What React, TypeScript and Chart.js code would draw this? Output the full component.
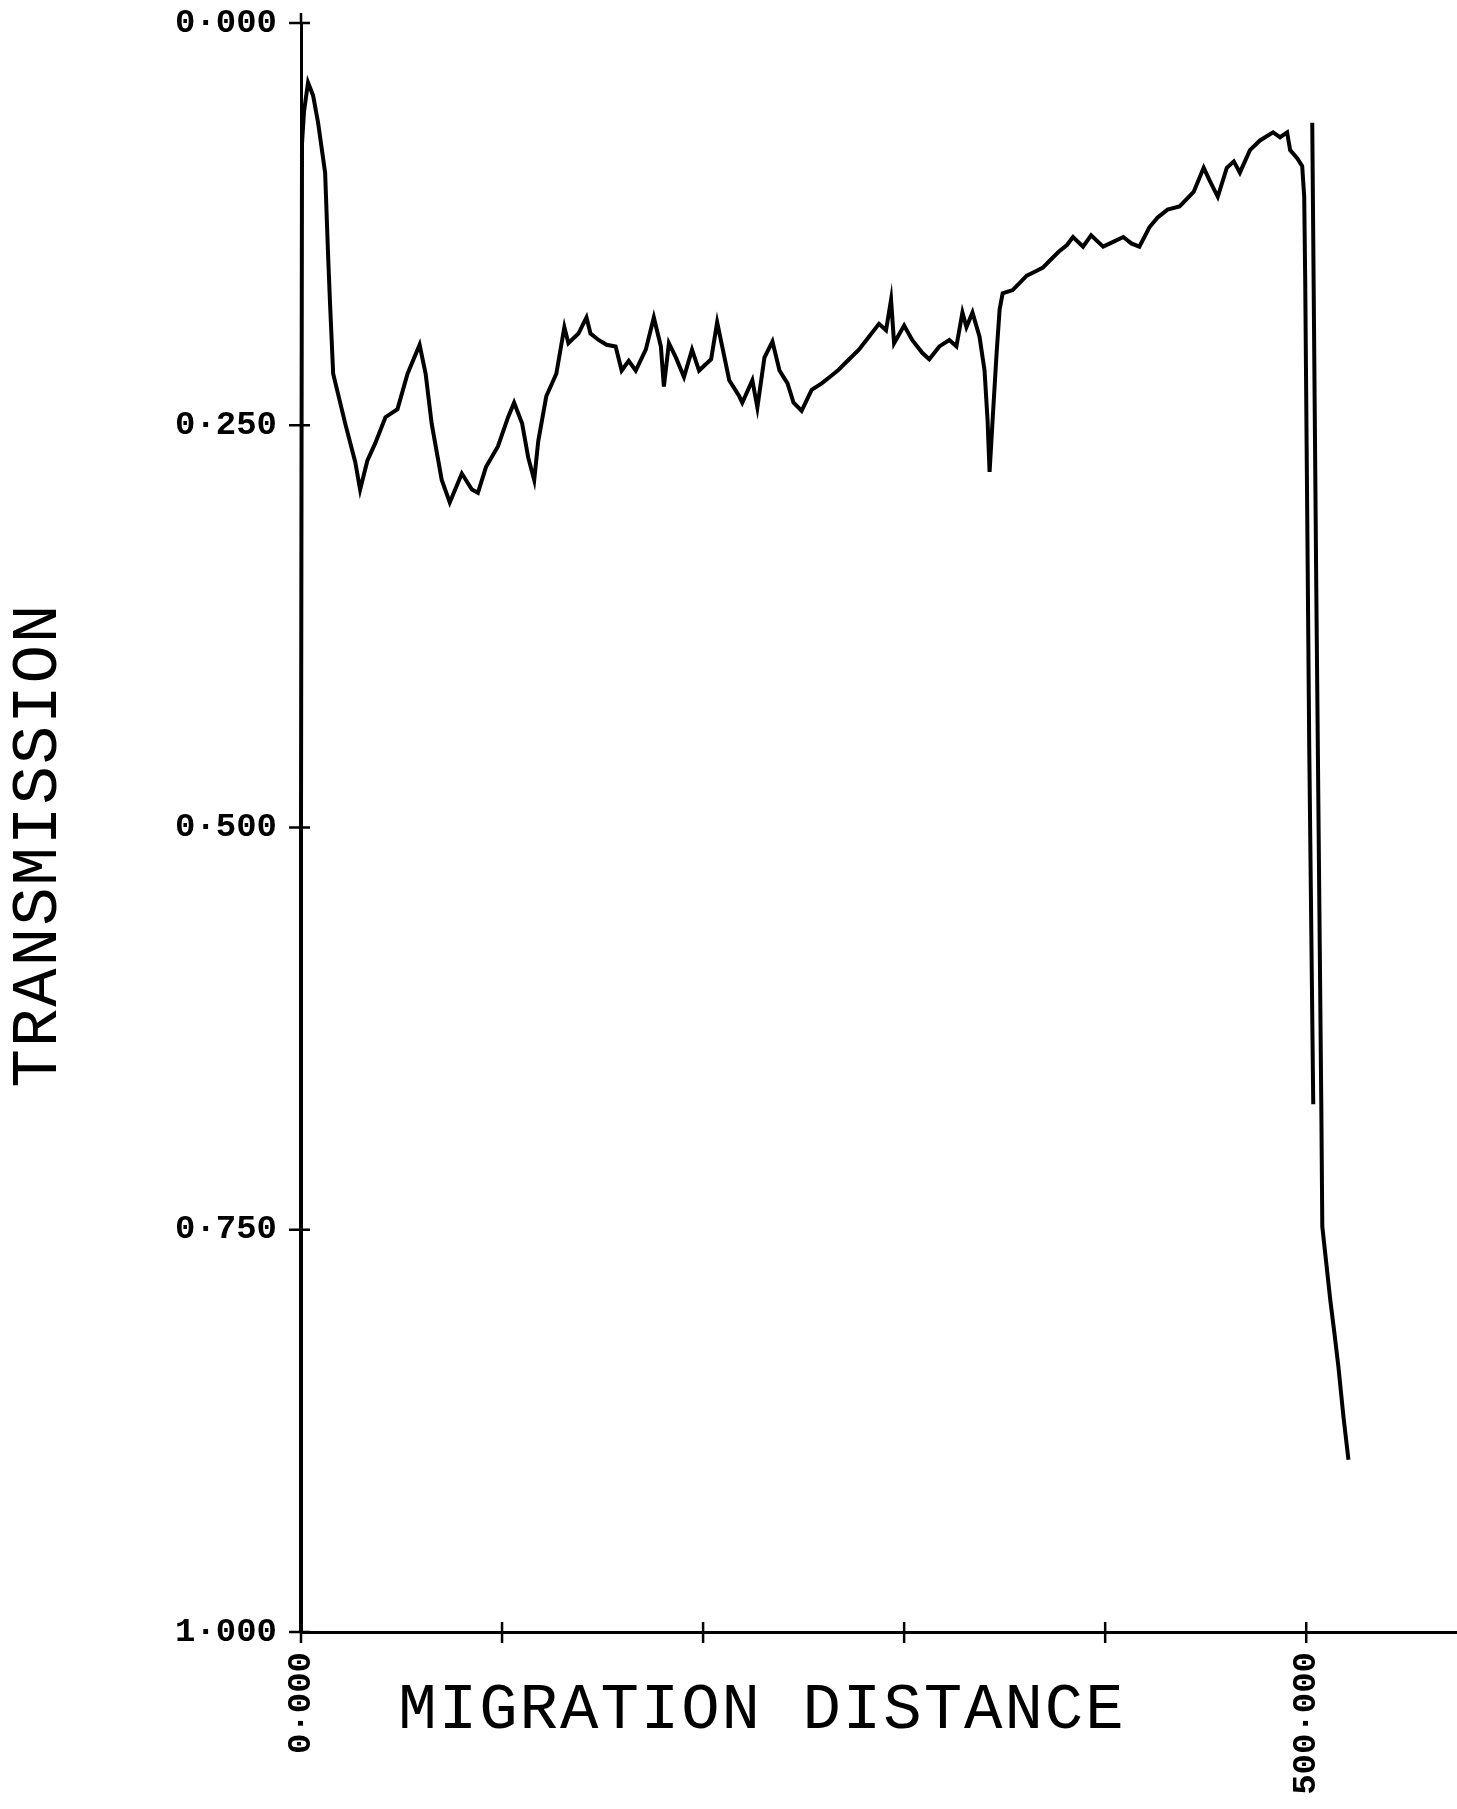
import { useEffect, useRef } from "react";
import { Chart, registerables } from "chart.js";

Chart.register(...registerables);

// Main densitometer trace: migration distance vs transmission (0 at top)
const mainDistance = [
  0, 0, 0.5, 1.5, 3.5, 6, 8.5, 12, 13.5, 14.5, 16, 22, 27, 29.4, 33, 37, 42, 48, 53, 59,
  62, 65, 70, 74, 80, 85, 88, 92, 98, 103, 106, 110, 113, 116, 118, 122, 127, 131, 133, 138,
  142, 144, 148, 152, 156.5, 159.5, 163, 166.5, 171.5, 175.5, 179, 180.5, 183, 186.5, 190.5,
  194.5, 198, 204, 207, 209.5, 213, 218, 219.5, 224.5, 227, 230.5, 234.5, 238, 242, 245, 249,
  254, 259, 263, 267, 271, 277.5, 282.5, 287.5, 291, 293.5, 295, 300, 304, 309, 312.5, 317.5,
  322.5, 326, 329, 331, 334, 337.5, 340, 341.5, 342.5, 344, 346, 347.5, 349, 354, 361, 366,
  369, 373, 377, 381, 384, 389, 393, 399, 404, 409, 413, 417, 422, 426, 431, 437, 444, 449,
  452, 456, 460.5, 464, 467, 472, 477, 483.5, 487, 490.5, 492, 495.5, 498, 499, 499.5, 501.5,
  503.5,
];
const mainTransmission = [
  1.0, 0.5, 0.075, 0.055, 0.037, 0.045, 0.062, 0.093, 0.145, 0.176, 0.218, 0.249, 0.273, 0.29,
  0.272, 0.261, 0.245, 0.24, 0.218, 0.2, 0.218, 0.249, 0.284, 0.298, 0.28, 0.29, 0.292, 0.276,
  0.263, 0.245, 0.236, 0.249, 0.27, 0.284, 0.26, 0.232, 0.218, 0.189, 0.199, 0.193, 0.183,
  0.193, 0.197, 0.2, 0.201, 0.216, 0.21, 0.216, 0.203, 0.183, 0.201, 0.226, 0.199, 0.208, 0.22,
  0.203, 0.216, 0.209, 0.186, 0.201, 0.222, 0.232, 0.236, 0.222, 0.239, 0.208, 0.198, 0.216,
  0.224, 0.236, 0.241, 0.228, 0.224, 0.22, 0.216, 0.211, 0.203, 0.195, 0.187, 0.191, 0.172,
  0.199, 0.188, 0.197, 0.205, 0.209, 0.201, 0.197, 0.201, 0.18, 0.189, 0.18, 0.195, 0.216,
  0.247, 0.279, 0.247, 0.205, 0.178, 0.168, 0.166, 0.157, 0.154, 0.152, 0.147, 0.142, 0.138,
  0.133, 0.139, 0.132, 0.139, 0.136, 0.133, 0.137, 0.139, 0.127, 0.121, 0.116, 0.114, 0.105,
  0.09, 0.098, 0.108, 0.09, 0.086, 0.093, 0.079, 0.073, 0.068, 0.071, 0.068, 0.079, 0.084,
  0.089, 0.108, 0.16, 0.45, 0.672,
];

// Second pen stroke at the end of the scan
const tailDistance = [503, 505, 507.5, 508, 512, 514, 516, 518.5, 521];
const tailTransmission = [0.062, 0.35, 0.672, 0.748, 0.794, 0.814, 0.835, 0.866, 0.893];

const xTickValues = [0, 100, 200, 300, 400, 500];
const xLabeledTicks = [0, 500];
const yTickValues = [0, 0.25, 0.5, 0.75, 1];
const xTitle = "MIGRATION DISTANCE";
const yTitle = "TRANSMISSION";

const W = 1457;
const H = 1809;
const FONT = "'Liberation Mono', 'DejaVu Sans Mono', monospace";

export default function App() {
  const ref = useRef<HTMLCanvasElement>(null);

  useEffect(() => {
    const canvas = ref.current;
    if (!canvas) return;
    const fmt = (v: number) => v.toFixed(3).replace(".", "\u00b7");

    const plotterPlugin = {
      id: "plotterAxes",
      afterDraw(chart: any) {
        const { ctx, chartArea: a, scales } = chart;
        const x = scales.x;
        const y = scales.y;
        ctx.save();
        ctx.strokeStyle = "#000";
        ctx.lineWidth = 2.5;
        ctx.beginPath();
        ctx.moveTo(a.left, a.top - 10);
        ctx.lineTo(a.left, a.top);
        for (const v of xTickValues) {
          const px = x.getPixelForValue(v);
          ctx.moveTo(px, a.bottom - 10);
          ctx.lineTo(px, a.bottom + 11);
        }
        for (const v of yTickValues) {
          const py = y.getPixelForValue(v);
          ctx.moveTo(a.left - 12, py);
          ctx.lineTo(a.left + 9, py);
        }
        ctx.stroke();

        ctx.fillStyle = "#000";
        ctx.font = `64px ${FONT}`;
        (ctx as any).letterSpacing = "2px";
        ctx.textAlign = "center";
        ctx.textBaseline = "middle";
        ctx.fillText(xTitle, 762, 1711);
        ctx.translate(39, 845);
        ctx.rotate(-Math.PI / 2);
        ctx.fillText(yTitle, 0, 0);
        ctx.restore();
      },
    };

    const gridOpts = {
      drawOnChartArea: false,
      drawTicks: false,
      color: "rgba(0,0,0,0)",
    };
    const borderOpts = { display: true, color: "#000", width: 3 };
    const tickFont = { family: FONT, size: 34, weight: "bold" as const };

    const chart = new Chart(canvas, {
      type: "line",
      data: {
        datasets: [
          {
            data: mainDistance.map((d, i) => ({ x: d, y: mainTransmission[i] })),
            borderColor: "#000",
            borderWidth: 4,
            pointRadius: 0,
            tension: 0,
            clip: false as any,
          },
          {
            data: tailDistance.map((d, i) => ({ x: d, y: tailTransmission[i] })),
            borderColor: "#000",
            borderWidth: 4,
            pointRadius: 0,
            tension: 0,
            clip: false as any,
          },
        ],
      },
      options: {
        responsive: false,
        animation: false,
        events: [],
        layout: { padding: { top: 23, right: 0, left: 0, bottom: 0 } },
        plugins: { legend: { display: false }, tooltip: { enabled: false } },
        scales: {
          x: {
            type: "linear",
            min: 0,
            max: 575,
            afterFit: (s: any) => {
              s.height = H - 1632;
              s.paddingLeft = 0;
              s.paddingRight = 0;
              s.paddingTop = 0;
              s.paddingBottom = 0;
            },
            grid: gridOpts,
            border: borderOpts,
            ticks: {
              stepSize: 100,
              includeBounds: false,
              autoSkip: false,
              minRotation: 90,
              maxRotation: 90,
              padding: 20,
              color: "#000",
              font: tickFont,
              callback: (v: any) => (xLabeledTicks.includes(Number(v)) ? fmt(Number(v)) : ""),
            },
          },
          y: {
            type: "linear",
            min: 0,
            max: 1,
            reverse: true,
            afterFit: (s: any) => {
              s.width = 301;
              s.paddingTop = 0;
              s.paddingBottom = 0;
              s.paddingLeft = 0;
              s.paddingRight = 0;
            },
            grid: gridOpts,
            border: borderOpts,
            ticks: {
              stepSize: 0.25,
              padding: 24,
              color: "#000",
              font: tickFont,
              callback: (v: any) => fmt(Number(v)),
            },
          },
        },
      },
      plugins: [plotterPlugin],
    });

    return () => chart.destroy();
  }, []);

  return (
    <div style={{ position: "absolute", left: 0, top: 0, width: W, height: H, background: "#fff" }}>
      <canvas ref={ref} width={W} height={H} style={{ display: "block" }} />
    </div>
  );
}
